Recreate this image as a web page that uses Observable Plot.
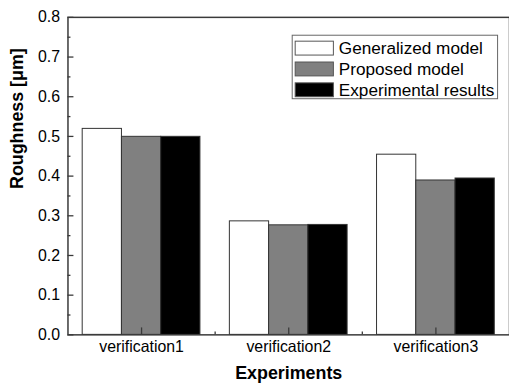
<!DOCTYPE html>
<html>
<head>
<meta charset="utf-8">
<script src="https://cdn.jsdelivr.net/npm/d3@7"></script>
<script src="https://cdn.jsdelivr.net/npm/@observablehq/plot@0.6"></script>
<style>
  html, body { margin: 0; padding: 0; background: #fff; overflow: hidden; }
  #wrap { position: relative; width: 509px; height: 391px; overflow: hidden; }
  #wrap svg { display: block; }
</style>
</head>
<body>
<div id="wrap"></div>
<script>
const groups = ["verification1", "verification2", "verification3"];
const series = ["Generalized model", "Proposed model", "Experimental results"];
const generalized = [0.519, 0.286, 0.454];
const proposed = [0.499, 0.276, 0.389];
const experimental = [0.499, 0.277, 0.394];
const seriesValues = [generalized, proposed, experimental];
const seriesFill = ["#ffffff", "#808080", "#000000"];
const yMajor = [0, 0.1, 0.2, 0.3, 0.4, 0.5, 0.6, 0.7, 0.8];
const yMinor = [0.05, 0.15, 0.25, 0.35, 0.45, 0.55, 0.65, 0.75];
const xMajor = [0, 1, 2];
const xMinor = [0.5, 1.5];

const groupWidth = 0.8;
const rows = [];
groups.forEach((g, gi) => {
  series.forEach((s, si) => {
    const w = groupWidth / series.length;
    const x1 = gi - groupWidth / 2 + si * w;
    rows.push({group: g, series: s, si, x1, x2: x1 + w, value: seriesValues[si][gi]});
  });
});

const font = "'Liberation Sans', Arial, Helvetica, sans-serif";
const axisColor = "#3a3a3a";

const chart = Plot.plot({
  width: 513,
  height: 391,
  marginLeft: 68,
  marginRight: 0,
  marginTop: 17,
  marginBottom: 54,
  style: {fontFamily: font, fontSize: "16px", color: "#000", background: "#fff", overflow: "visible"},
  x: {domain: [-0.5, 2.5], axis: null},
  y: {domain: [0, 0.8], axis: null},
  marks: [
    Plot.rectY(rows, {x1: "x1", x2: "x2", y: "value", fill: d => seriesFill[d.si], stroke: "#333", strokeWidth: 1}),
    Plot.frame({stroke: axisColor, strokeWidth: 1.5}),
    Plot.axisY({ticks: yMajor, tickSize: 6, dx: 6, text: null, label: null, stroke: axisColor, strokeWidth: 1.3}),
    Plot.axisY({ticks: yMinor, tickSize: 3, dx: 3, text: null, label: null, stroke: axisColor, strokeWidth: 1.3}),
    Plot.axisY({ticks: yMajor, tickSize: 0, tickPadding: 8, tickFormat: d3.format(".1f"), label: null, fill: "#000", fontSize: 16}),
    Plot.axisX({ticks: xMajor, tickSize: 7, dy: -7, text: null, label: null, stroke: axisColor, strokeWidth: 1.3}),
    Plot.axisX({ticks: xMinor, tickSize: 3, dy: -3, text: null, label: null, stroke: axisColor, strokeWidth: 1.3}),
    Plot.axisX({ticks: xMajor, tickSize: 0, tickPadding: 6, tickFormat: i => groups[i], label: null, fill: "#000", fontSize: 16}),
    Plot.text(["Experiments"], {frameAnchor: "bottom", dy: 44, text: d => d, fontWeight: "bold", fontSize: 18, fill: "#000"}),
    Plot.text(["Roughness [μm]"], {frameAnchor: "left", dx: -51, dy: 13, rotate: -90, text: d => d, fontWeight: "bold", fontSize: 18, fill: "#000"})
  ]
});

document.getElementById("wrap").appendChild(chart);

// legend inside the plot area
const svg = d3.select(chart);
const lg = svg.append("g").attr("transform", "translate(294,35)").attr("text-anchor", "start");
lg.append("rect").attr("x", 0.5).attr("y", 0.5).attr("width", 207).attr("height", 64)
  .attr("fill", "#fff").attr("stroke", "#666").attr("stroke-width", 1);
series.forEach((s, i) => {
  const y = 6 + i * 21;
  lg.append("rect").attr("x", 3.5).attr("y", y + 0.5).attr("width", 38.5).attr("height", 14)
    .attr("fill", seriesFill[i]).attr("stroke", "#555").attr("stroke-width", 1);
  lg.append("text").attr("x", 47.5).attr("y", y + 7.5).attr("dy", "0.35em")
    .attr("text-anchor", "start")
    .attr("font-family", font).attr("font-size", 17.3).attr("fill", "#000").text(s);
});
</script>
</body>
</html>
